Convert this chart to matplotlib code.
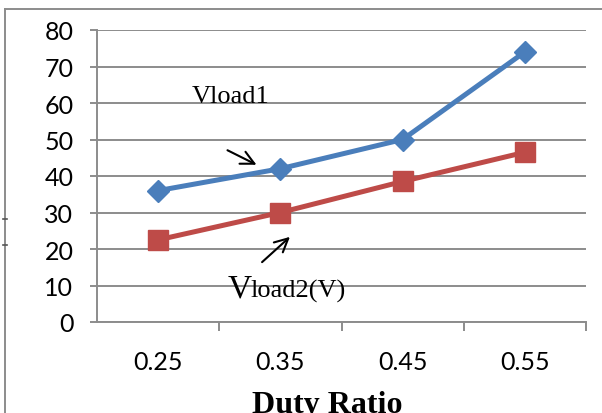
import matplotlib
matplotlib.use("Agg")
import matplotlib.pyplot as plt
from matplotlib.lines import Line2D

# data
duty_labels = ['0.25', '0.35', '0.45', '0.55']
vload1 = [36, 42, 50, 74]
vload2 = [22.5, 30, 38.5, 46.5]
y_ticks = [0, 10, 20, 30, 40, 50, 60, 70, 80]

W, H = 602, 414
blue = '#4A7EBB'
red = '#BE4B48'
grid_c = '#8C8C8C'

fig = plt.figure(figsize=(W / 100, H / 100), dpi=100)
fig.patch.set_facecolor('white')

# plot area in pixels: left 97, right 586, top 31, bottom 323
ax = fig.add_axes([97 / W, (H - 323) / H, (586 - 97) / W, (323 - 31) / H])

x = list(range(len(duty_labels)))
ax.plot(x, vload1, '-', color=blue, lw=3.6, marker='D', ms=11,
        markerfacecolor=blue, markeredgecolor=blue, zorder=3, clip_on=False)
ax.plot(x, vload2, '-', color=red, lw=3.6, marker='s', ms=14,
        markerfacecolor=red, markeredgecolor=red, zorder=3, clip_on=False)

ax.set_xlim(-0.5, 3.5)
ax.set_ylim(0, 80)
ax.set_yticks(y_ticks)
ax.set_xticks(x)
ax.set_xticklabels(duty_labels)
ax.set_xticks([0.5, 1.5, 2.5, 3.5], minor=True)

ax.yaxis.grid(True, color=grid_c, lw=1.4)
ax.set_axisbelow(True)
for s in ['top', 'right']:
    ax.spines[s].set_visible(False)
for s in ['left', 'bottom']:
    ax.spines[s].set_color(grid_c)
    ax.spines[s].set_linewidth(1.4)

tick_font = 'Lato'
ax.tick_params(axis='y', length=5, width=1.4, color=grid_c, pad=12,
               labelsize=18)
ax.tick_params(axis='x', which='major', length=0, pad=20, labelsize=18)
ax.tick_params(axis='x', which='minor', length=6.5, width=1.4, color=grid_c)
for lab in ax.get_xticklabels() + ax.get_yticklabels():
    lab.set_fontfamily(tick_font)

# annotations
serif = 'Liberation Serif'
fig.text(192 / W, (H - 103) / H, 'Vload1', family=serif, fontsize=19,
         va='baseline', ha='left')
fig.text(228 / W, (H - 298) / H, 'V', family=serif, fontsize=24,
         va='baseline', ha='left')
fig.text(250 / W, (H - 298) / H, 'load2(V)', family=serif, fontsize=19,
         va='baseline', ha='left')

arrow_kw = dict(arrowstyle='->', color='black', lw=1.5, mutation_scale=24)
ax.annotate('', xy=(259 / W, (H - 167) / H), xytext=(225 / W, (H - 150) / H),
            xycoords='figure fraction', textcoords='figure fraction',
            arrowprops=arrow_kw)
ax.annotate('', xy=(292 / W, (H - 236) / H), xytext=(260 / W, (H - 265) / H),
            xycoords='figure fraction', textcoords='figure fraction',
            arrowprops=arrow_kw)

fig.text(327 / W, (H - 413) / H, 'Duty Ratio', family=serif, fontsize=23,
         fontweight='bold', va='baseline', ha='center')

# outer chart frame (left and top edges visible)
fig.add_artist(Line2D([5 / W, 5 / W], [0, (H - 10) / H], color=grid_c, lw=1.4))
fig.add_artist(Line2D([5 / W, 1], [(H - 10) / H, (H - 10) / H], color=grid_c, lw=1.4))
for yy in [220, 246]:
    fig.add_artist(Line2D([3 / W, 7 / W], [(H - yy) / H, (H - yy) / H],
                          color='#555555', lw=1.2))

fig.savefig('out.png', dpi=100)
